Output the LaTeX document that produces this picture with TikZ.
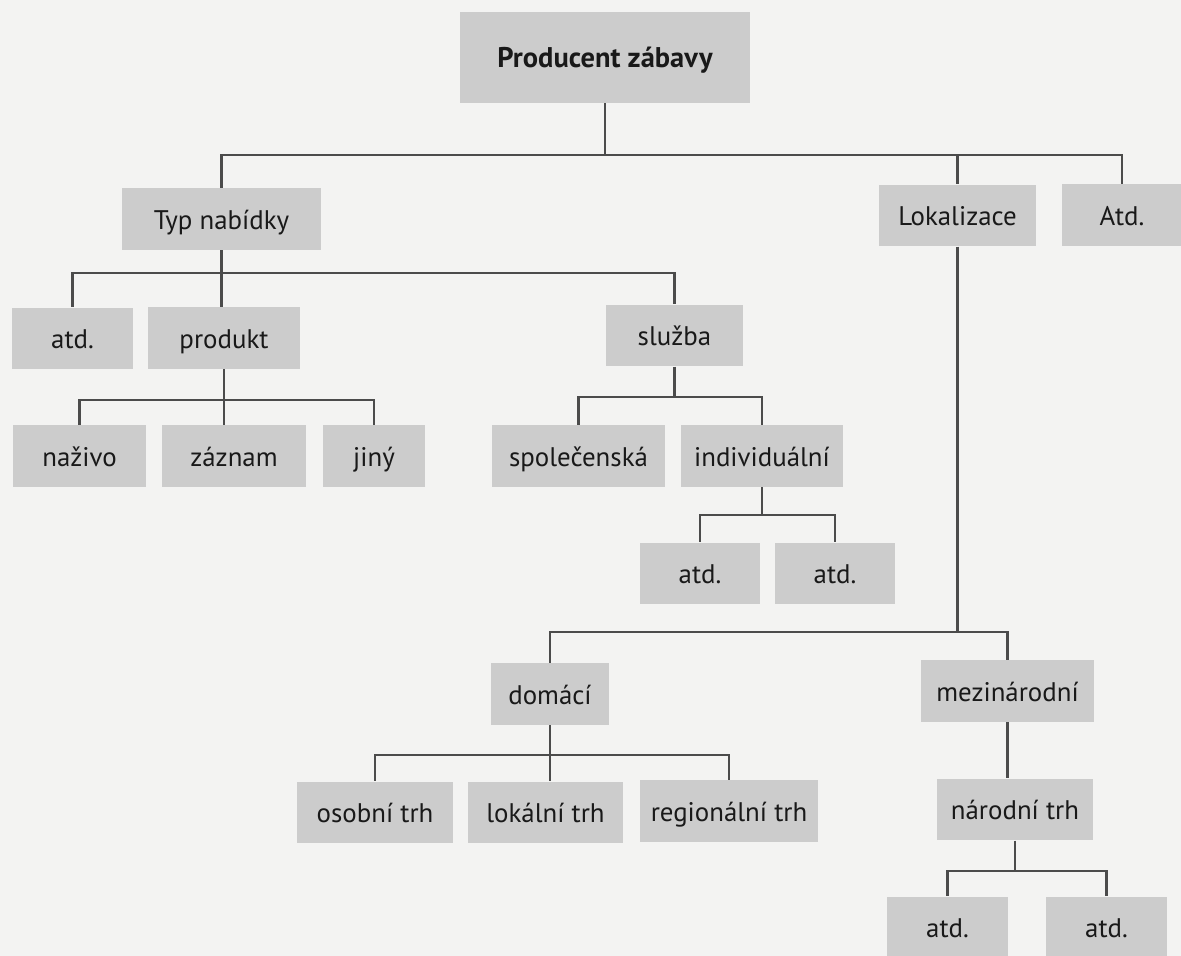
\documentclass[tikz,border=0pt]{standalone}
\usepackage{fontspec}
\setmainfont{PT Sans}
\usepackage{tikz}
\usetikzlibrary{calc}
\definecolor{PaperGray}{RGB}{243,243,242}
\definecolor{BoxGray}{RGB}{204,204,204}
\definecolor{LineGray}{RGB}{75,75,75}
\definecolor{InkBlack}{RGB}{25,25,25}

\begin{document}
\begin{tikzpicture}[
  x=0.02cm, y=-0.02cm,
  cell/.style={
    rectangle,
    fill=BoxGray,
    text=InkBlack,
    align=center,
    inner sep=0pt,
    minimum height=1.23cm,
    text height=14pt,
    text depth=2.4pt,
    font=\fontsize{15.3}{18}\selectfont
  },
  link/.style={draw=LineGray, line width=1.2pt}
]
\fill[PaperGray] (0,0) rectangle (1181,956);
\useasboundingbox (0,0) rectangle (1181,956);

\node[cell, minimum width=5.8cm, minimum height=1.82cm, font=\fontsize{16.2}{19}\selectfont\bfseries] (prod) at (605,57.5) {Producent zábavy};

\node[cell, minimum width=3.98cm] (typ) at (221.5,219) {Typ nabídky};
\node[cell, minimum width=3.16cm] (lok) at (957.5,215.5) {Lokalizace};
\node[cell, minimum width=2.4cm] (dalsi) at (1122,215) {Atd.};

\node[cell, minimum width=2.42cm] (typatd) at (72.5,338.5) {atd.};
\node[cell, minimum width=3.04cm] (produkt) at (224,338) {produkt};
\node[cell, minimum width=2.74cm] (sluzba) at (674.5,335.5) {služba};

\node[cell, minimum width=2.66cm] (nazivo) at (79.5,456) {naživo};
\node[cell, minimum width=2.9cm] (zaznam) at (234,456) {záznam};
\node[cell, minimum width=2.06cm] (jiny) at (374,456) {jiný};
\node[cell, minimum width=3.46cm] (spol) at (578.5,456) {společenská};
\node[cell, minimum width=3.24cm] (indiv) at (762,456) {individuální};

\node[cell, minimum width=2.4cm] (indatda) at (700,573.5) {atd.};
\node[cell, minimum width=2.4cm] (indatdb) at (835,573.5) {atd.};

\node[cell, minimum width=2.36cm] (domaci) at (550,694) {domácí};
\node[cell, minimum width=3.46cm] (mezi) at (1007.5,691) {mezinárodní};

\node[cell, minimum width=3.14cm] (osobni) at (375,812.5) {osobní trh};
\node[cell, minimum width=3.1cm] (lokalni) at (545.5,812.5) {lokální trh};
\node[cell, minimum width=3.56cm] (region) at (729,811) {regionální trh};
\node[cell, minimum width=3.12cm] (narodni) at (1015,809.5) {národní trh};

\node[cell, minimum width=2.42cm] (naratda) at (947.5,927.5) {atd.};
\node[cell, minimum width=2.42cm] (naratdb) at (1106.5,927.5) {atd.};

\coordinate (bar1) at (0,155);
\coordinate (bar2) at (0,273);
\coordinate (bar3) at (0,400);
\coordinate (bar4) at (0,397);
\coordinate (bar5) at (0,515);
\coordinate (bar6) at (0,632);
\coordinate (bar7) at (0,755);
\coordinate (bar8) at (0,871);

\draw[link] (prod.south) -- (prod.south |- bar1) -| (typ.north);
\draw[link] (prod.south |- bar1) -| (lok.north);
\draw[link] (prod.south |- bar1) -| (dalsi.north);

\draw[link] (typ.south) -- (typ.south |- produkt.north);
\draw[link] (typ.south |- bar2) -| (typatd.north);
\draw[link] (typ.south |- bar2) -| (sluzba.north);

\draw[link] (produkt.south) -- (produkt.south |- zaznam.north);
\draw[link] (produkt.south |- bar3) -| (nazivo.north);
\draw[link] (produkt.south |- bar3) -| (jiny.north);

\draw[link] (sluzba.south) -- (sluzba.south |- bar4) -| (spol.north);
\draw[link] (sluzba.south |- bar4) -| (indiv.north);

\draw[link] (indiv.south) -- (indiv.south |- bar5) -| (indatda.north);
\draw[link] (indiv.south |- bar5) -| (indatdb.north);

\draw[link] (lok.south) -- (lok.south |- bar6) -| (domaci.north);
\draw[link] (lok.south |- bar6) -| (mezi.north);

\draw[link] (domaci.south) -- (domaci.south |- lokalni.north);
\draw[link] (domaci.south |- bar7) -| (osobni.north);
\draw[link] (domaci.south |- bar7) -| (region.north);

\draw[link] (mezi.south) -- (mezi.south |- narodni.north);

\draw[link] (narodni.south) -- (narodni.south |- bar8) -| (naratda.north);
\draw[link] (narodni.south |- bar8) -| (naratdb.north);
\end{tikzpicture}
\end{document}
